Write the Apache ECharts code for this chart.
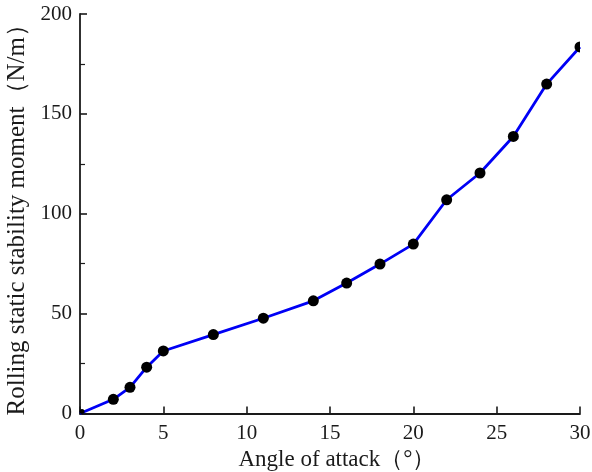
<!DOCTYPE html>
<html>
<head>
<meta charset="utf-8">
<script src="https://cdn.jsdelivr.net/npm/echarts@6/dist/echarts.min.js"></script>
<style>html,body{margin:0;padding:0;background:#fff;}#c{width:592px;height:472px;}</style>
</head>
<body>
<div id="c"></div>
<script>
var angles = [0, 2, 3, 4, 5, 8, 11, 14, 16, 18, 20, 22, 24, 26, 28, 30];
var moments = [0, 7.1, 13.1, 23.2, 31.3, 39.5, 47.7, 56.4, 65.3, 74.8, 84.8, 107, 120.4, 138.7, 164.9, 183.5];
var xTitle = 'Angle of attack（°）';
var yTitle = 'Rolling static stability moment（N/m）';

var last = angles.length - 1;
var data = angles.map(function (a, i) {
  var item = { value: [a, moments[i]] };
  if (i === 0) { item.symbolSize = 5; item.symbolOffset = [2, -2]; }
  if (i === last) {
    item.symbol = 'path://M10,0 A10,10 0 0,0 10,20 Z';
    item.symbolSize = [5.5, 11];
    item.symbolOffset = [-2.75, 0];
  }
  return item;
});
var font = '"Liberation Serif", "Times New Roman", serif';
var chart = echarts.init(document.getElementById('c'));
chart.setOption({
  backgroundColor: '#fff',
  animation: false,
  grid: { left: 80, right: 12, top: 14, bottom: 58.5, containLabel: false, outerBoundsMode: 'none' },
  xAxis: {
    type: 'value', min: 0, max: 30, interval: 5,
    name: xTitle, nameLocation: 'middle', nameGap: 34,
    nameTextStyle: { fontFamily: font, fontSize: 23, color: '#1a1a1a', padding: [0, 0, 0, 14] },
    axisLine: { show: true, lineStyle: { color: '#1a1a1a', width: 1.8 } },
    axisTick: { show: true, inside: true, length: 7, lineStyle: { color: '#1a1a1a', width: 1.6 } },
    axisLabel: { fontFamily: font, fontSize: 21, color: '#1a1a1a', margin: 9 },
    splitLine: { show: false }
  },
  yAxis: {
    type: 'value', min: 0, max: 200, interval: 50,
    name: yTitle, nameLocation: 'middle', nameGap: 40,
    nameTextStyle: { fontFamily: font, fontSize: 25, color: '#1a1a1a' },
    axisLine: { show: true, lineStyle: { color: '#1a1a1a', width: 1.8 } },
    axisTick: { show: true, inside: true, length: 7, lineStyle: { color: '#1a1a1a', width: 1.6 } },
    minorTick: { show: true, splitNumber: 2, length: 5, lineStyle: { color: '#1a1a1a', width: 1.2 } },
    axisLabel: { fontFamily: font, fontSize: 21, color: '#1a1a1a', margin: 8 },
    splitLine: { show: false }
  },
  series: [{
    type: 'line', data: data,
    symbol: 'circle', symbolSize: 11,
    itemStyle: { color: '#000' },
    lineStyle: { color: '#0000f5', width: 2.8 }
  }]
});
</script>
</body>
</html>
